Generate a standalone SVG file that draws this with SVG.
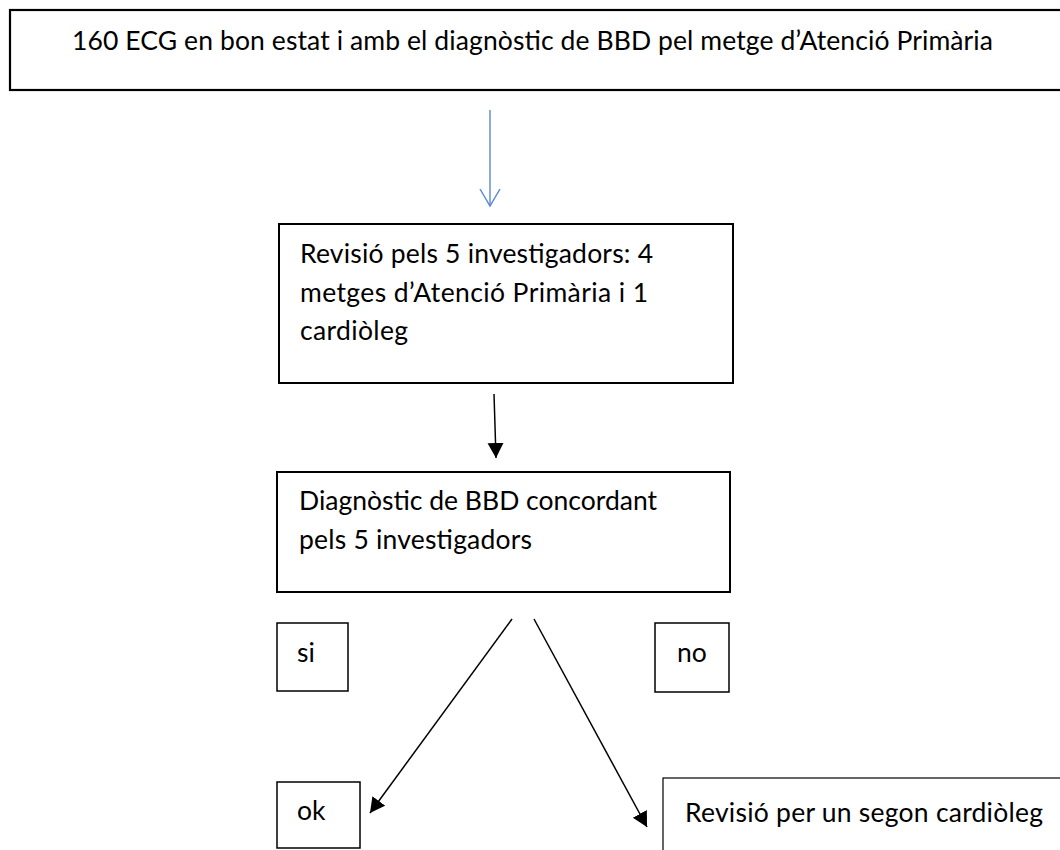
<svg xmlns="http://www.w3.org/2000/svg" width="1060" height="850" viewBox="0 0 1060 850">
<style>
.box{fill:#fff;stroke:#000;}
.t{font-family:Lato,"Open Sans","Liberation Sans",sans-serif;font-size:26.5px;fill:#000;}
.c{stroke:#000;stroke-width:1.5;fill:none;}
</style>
<defs>
<marker id="ah" markerUnits="userSpaceOnUse" markerWidth="17" markerHeight="17" refX="15" refY="8" orient="auto" viewBox="0 0 17 17">
<path d="M0,0 L15,8 L0,16 z" fill="#000"/>
</marker>
<marker id="av" markerUnits="userSpaceOnUse" markerWidth="20" markerHeight="24" refX="17" refY="11" orient="auto" viewBox="0 0 20 24">
<path d="M0,1 L17,11 L0,21" fill="none" stroke="#5b87d6" stroke-width="1.4"/>
</marker>
</defs>
<rect width="1060" height="850" fill="#fff"/>
<g id="n1">
<rect class="box" x="10" y="10" width="1070" height="80" stroke-width="2.2"/>
<text class="t" x="72" y="50" textLength="921">160 ECG en bon estat i amb el diagnòstic de BBD pel metge d’Atenció Primària</text>
</g>
<g id="n2">
<rect class="box" x="279" y="224" width="454" height="159" stroke-width="2"/>
<text class="t" x="300" y="263" textLength="353">Revisió pels 5 investigadors: 4</text>
<text class="t" x="300" y="302" textLength="348">metges d’Atenció Primària i 1</text>
<text class="t" x="300" y="340" textLength="108">cardiòleg</text>
</g>
<g id="n3">
<rect class="box" x="277" y="472" width="453" height="120" stroke-width="2"/>
<text class="t" x="299" y="510" textLength="358">Diagnòstic de BBD concordant</text>
<text class="t" x="299" y="549" textLength="233">pels 5 investigadors</text>
</g>
<g id="n4">
<rect class="box" x="277" y="623" width="71" height="68" stroke-width="1.5"/>
<text class="t" x="297" y="662">si</text>
</g>
<g id="n5">
<rect class="box" x="655" y="623" width="74" height="69" stroke-width="1.5"/>
<text class="t" x="677" y="662">no</text>
</g>
<g id="n6">
<rect class="box" x="277" y="782" width="83" height="66" stroke-width="1.5"/>
<text class="t" x="297" y="820">ok</text>
</g>
<g id="n7">
<rect class="box" x="663" y="778" width="420" height="90" stroke-width="1.2"/>
<text class="t" x="685" y="822" textLength="358">Revisió per un segon cardiòleg</text>
</g>
<g id="connectors">
<line x1="490" y1="110" x2="490" y2="206" stroke="#5b87d6" stroke-width="1.4" marker-end="url(#av)"/>
<line class="c" x1="494" y1="394" x2="496" y2="458" marker-end="url(#ah)"/>
<line class="c" x1="512" y1="619" x2="370" y2="813" marker-end="url(#ah)"/>
<line class="c" x1="534" y1="619" x2="647" y2="827" marker-end="url(#ah)"/>
</g>
</svg>
